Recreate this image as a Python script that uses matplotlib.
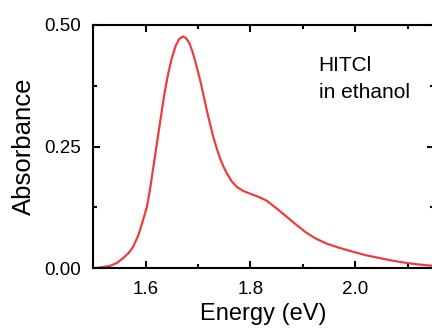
import matplotlib
matplotlib.use("Agg")
import matplotlib.pyplot as plt
from matplotlib.ticker import MultipleLocator

# absorbance spectrum of HITCl in ethanol
energy = [1.500, 1.515, 1.532, 1.545, 1.557, 1.567, 1.576, 1.586, 1.595, 1.602,
          1.608, 1.617, 1.624, 1.630, 1.636, 1.643, 1.650, 1.657, 1.664, 1.671,
          1.677, 1.683, 1.689, 1.696, 1.705, 1.717, 1.729, 1.736, 1.742, 1.748,
          1.755, 1.764, 1.774, 1.786, 1.800, 1.815, 1.831, 1.850, 1.869, 1.888,
          1.907, 1.925, 1.945, 1.970, 1.996, 2.020, 2.047, 2.070, 2.098, 2.120,
          2.150]
absorb = [0.000, 0.002, 0.005, 0.011, 0.021, 0.031, 0.044, 0.068, 0.099, 0.125,
          0.160, 0.225, 0.275, 0.318, 0.360, 0.400, 0.432, 0.456, 0.471, 0.476,
          0.473, 0.463, 0.446, 0.420, 0.382, 0.323, 0.270, 0.245, 0.226, 0.210,
          0.195, 0.179, 0.167, 0.159, 0.153, 0.147, 0.139, 0.123, 0.106, 0.089,
          0.073, 0.061, 0.051, 0.042, 0.034, 0.027, 0.021, 0.016, 0.011, 0.008,
          0.005]

plt.rcParams['font.family'] = ['Liberation Sans', 'DejaVu Sans']

fig = plt.figure(figsize=(4.32, 3.35), dpi=100)
ax = fig.add_axes([0.216, 0.199, 0.788, 0.727])

ax.plot(energy, absorb, color="#f03c3c", lw=1.6)

ax.set_xlim(1.5, 2.15)
ax.set_ylim(0, 0.5)
ax.xaxis.set_minor_locator(MultipleLocator(0.1))
ax.yaxis.set_minor_locator(MultipleLocator(0.125))
ax.set_xticks([1.6, 1.8, 2.0])
ax.set_xticklabels(["1.6", "1.8", "2.0"])
ax.set_yticks([0, 0.25, 0.5])
ax.set_yticklabels(["0.00", "0.25", "0.50"])

ax.tick_params(which="both", direction="in", top=True, right=True, width=1.5,
               labelsize=13.5, pad=9)
ax.tick_params(which="major", length=5)
ax.tick_params(which="minor", length=3)
for s in ax.spines.values():
    s.set_linewidth(1.5)

ax.set_xlabel("Energy (eV)", fontsize=17, labelpad=4)
ax.set_ylabel("Absorbance", fontsize=18.5, labelpad=6)

ax.text(1.930, 0.405, "HITCl", fontsize=15, va="baseline")
ax.text(1.930, 0.350, "in ethanol", fontsize=15, va="baseline")

fig.savefig("out.png", dpi=100)
